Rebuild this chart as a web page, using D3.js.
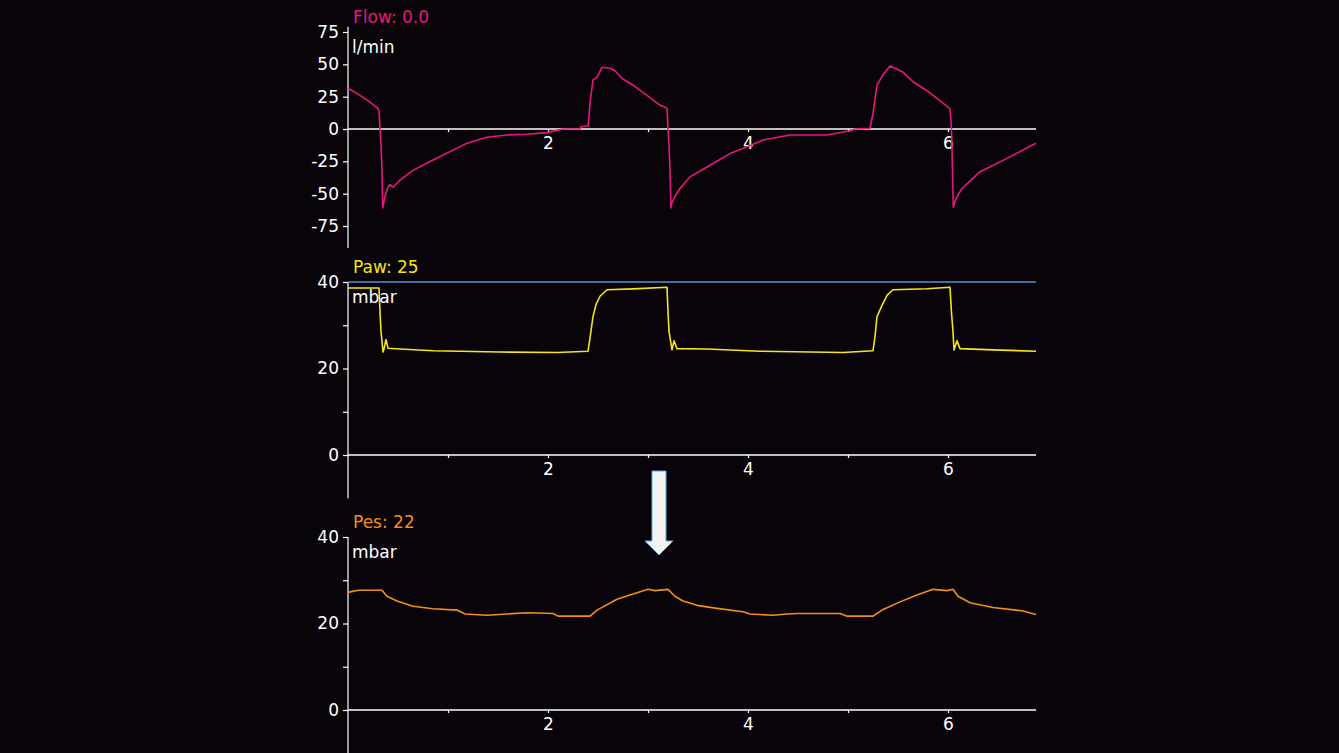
<!DOCTYPE html>
<html>
<head>
<meta charset="utf-8">
<script src="https://cdn.jsdelivr.net/npm/d3@7"></script>
<style>
  html, body { margin: 0; padding: 0; background: #080409; }
  svg { display: block; }
  text { font-family: "DejaVu Sans", sans-serif; }
</style>
</head>
<body>
<svg id="chart" width="1339" height="753"></svg>
<script>
// ---------- data ----------
const timeTicks = [1, 2, 3, 4, 5, 6];
const timeLabels = [2, 4, 6];

const flowTicks = [-75, -50, -25, 0, 25, 50, 75];
const pressureTicks = [0, 10, 20, 30, 40];
const pressureLabels = [0, 20, 40];

const flowT = [0, 0.10, 0.20, 0.30, 0.31, 0.32, 0.33, 0.34, 0.347, 0.355, 0.37, 0.40, 0.42, 0.45, 0.52, 0.65, 0.85, 1.02, 1.19, 1.39, 1.59, 1.79, 1.99, 2.15, 2.32, 2.33, 2.40, 2.41, 2.42, 2.45, 2.49, 2.54, 2.62, 2.67, 2.74, 2.85, 2.99, 3.12, 3.19, 3.195, 3.20, 3.21, 3.22, 3.23, 3.24, 3.27, 3.32, 3.42, 3.62, 3.82, 4.00, 4.15, 4.42, 4.79, 5.02, 5.07, 5.22, 5.25, 5.29, 5.32, 5.35, 5.42, 5.55, 5.65, 5.79, 5.89, 6.00, 6.02, 6.035, 6.045, 6.053, 6.07, 6.10, 6.14, 6.32, 6.59, 6.88];
const flowV = [31.5, 27, 22, 16, 14, 0, -11, -33, -61, -58, -52, -45, -43, -45, -39.5, -32, -24, -17.5, -11, -6.4, -4.6, -4.1, -2.8, 0, 0, 1.8, 2.3, 10, 20, 38, 40, 47.7, 47, 45, 39, 34, 26, 18.5, 16, 9, 0, -11, -33, -61, -57, -52, -46, -37, -28, -19, -13.6, -8.5, -4.6, -4.6, -1.3, 0, 0.5, 12, 34, 38, 42, 48.7, 44, 36.5, 29.6, 23.7, 17, 15.5, 0, -32, -60.5, -56, -51, -46, -33, -22.7, -11];

const pawT = [0, 0.31, 0.32, 0.33, 0.35, 0.36, 0.38, 0.40, 0.52, 0.85, 1.52, 2.09, 2.40, 2.42, 2.45, 2.48, 2.52, 2.59, 2.85, 3.19, 3.20, 3.21, 3.24, 3.26, 3.29, 3.59, 4.12, 4.95, 5.25, 5.27, 5.29, 5.34, 5.39, 5.45, 5.79, 6.02, 6.035, 6.05, 6.06, 6.09, 6.12, 6.45, 6.88];
const pawV = [38.6, 38.6, 33, 28.6, 23.8, 24.5, 26.7, 24.7, 24.5, 24.1, 23.8, 23.7, 24, 27, 32, 34.8, 36.7, 38.2, 38.4, 38.8, 33, 28.6, 24.3, 26.4, 24.6, 24.5, 24, 23.7, 24.1, 27.4, 32, 34.6, 36.9, 38.2, 38.45, 38.8, 32.8, 28.6, 24.3, 26.4, 24.6, 24.3, 24.0];
const pawLimit = 40;

const pesT = [0, 0.10, 0.22, 0.34, 0.39, 0.49, 0.65, 0.85, 1.09, 1.17, 1.39, 1.59, 1.79, 2.05, 2.10, 2.42, 2.49, 2.69, 2.85, 3.00, 3.07, 3.20, 3.27, 3.35, 3.49, 3.69, 3.95, 4.02, 4.25, 4.39, 4.49, 4.92, 4.99, 5.25, 5.34, 5.52, 5.69, 5.85, 5.99, 6.05, 6.10, 6.22, 6.45, 6.75, 6.88];
const pesV = [27.2, 27.7, 27.7, 27.7, 26.3, 25.2, 24.0, 23.4, 23.1, 22.2, 21.9, 22.2, 22.5, 22.3, 21.7, 21.7, 23.1, 25.6, 26.8, 27.9, 27.6, 27.9, 26.3, 25.2, 24.2, 23.5, 22.7, 22.2, 21.9, 22.2, 22.3, 22.3, 21.7, 21.7, 23.1, 25.0, 26.6, 27.9, 27.6, 27.9, 26.3, 24.8, 23.7, 22.9, 22.1];

const panels = [
  { title: "Flow: 0.0", unit: "l/min", color: "#e8177f", t: flowT, v: flowV,
    domain: [-75, 75], range: [226, 32], ext: [-92, 79], ticks: flowTicks, labels: flowTicks, xAxisAt: 0 },
  { title: "Paw: 25", unit: "mbar", color: "#f5e619", t: pawT, v: pawV,
    domain: [0, 40], range: [455, 282], ext: [-10, 40], ticks: pressureTicks, labels: pressureLabels, xAxisAt: 0, limit: pawLimit },
  { title: "Pes: 22", unit: "mbar", color: "#f0901c", t: pesT, v: pesV,
    domain: [0, 40], range: [710, 537], ext: [-10, 40], ticks: pressureTicks, labels: pressureLabels, xAxisAt: 0 }
];

// ---------- drawing ----------
const svg = d3.select("#chart");
svg.append("rect").attr("width", 1339).attr("height", 753).attr("fill", "#080409");

const x = d3.scaleLinear().domain([0, 6.88]).range([348, 1036]);

panels.forEach(p => {
  const y = d3.scaleLinear().domain(p.domain).range(p.range);
  const g = svg.append("g");

  // vertical axis line
  g.append("line")
    .attr("x1", x(0)).attr("x2", x(0))
    .attr("y1", Math.min(y(p.ext[1]), 753)).attr("y2", Math.min(y(p.ext[0]), 753))
    .attr("stroke", "#ffffff").attr("stroke-width", 1.2);

  // y axis ticks
  const yAxis = d3.axisLeft(y).tickValues(p.ticks).tickSize(5).tickPadding(4)
    .tickFormat(d => p.labels.includes(d) ? d : "");
  const ya = g.append("g").attr("transform", `translate(${x(0)},0)`).call(yAxis);
  ya.select(".domain").remove();
  ya.selectAll(".tick line").attr("stroke", "#ffffff").attr("stroke-width", 1.2);
  ya.selectAll(".tick text").attr("fill", "#ffffff").style("font-size", "17px")
    .style("font-family", "DejaVu Sans, sans-serif");

  // limit line
  if (p.limit !== undefined) {
    g.append("line")
      .attr("x1", x(0)).attr("x2", x(6.88))
      .attr("y1", y(p.limit)).attr("y2", y(p.limit))
      .attr("stroke", "#5b8fd6").attr("stroke-width", 1.5);
  }

  // x axis
  const xAxis = d3.axisBottom(x).tickValues(timeTicks).tickSize(3).tickPadding(5)
    .tickFormat(d => timeLabels.includes(d) ? d : "");
  const xa = g.append("g").attr("transform", `translate(0,${y(p.xAxisAt)})`).call(xAxis);
  xa.select(".domain").attr("stroke", "#ffffff").attr("stroke-width", 1.5)
    .attr("d", `M${x(0)},0H${x(6.88)}`);
  xa.selectAll(".tick line").attr("stroke", "#ffffff").attr("stroke-width", 1.2);
  xa.selectAll(".tick text").attr("fill", "#ffffff").style("font-size", "17px")
    .style("font-family", "DejaVu Sans, sans-serif");

  // trace
  const data = p.t.map((t, i) => [t, p.v[i]]);
  g.append("path")
    .datum(data)
    .attr("fill", "none")
    .attr("stroke", p.color)
    .attr("stroke-width", 1.6)
    .attr("stroke-linejoin", "round")
    .attr("d", d3.line().x(d => x(d[0])).y(d => y(d[1])));

  // title + unit
  const top = y(p.domain[1]);
  g.append("text").attr("x", x(0) + 5).attr("y", top - 9)
    .attr("fill", p.color).style("font-size", "17px").text(p.title);
  g.append("text").attr("x", x(0) + 4).attr("y", top + 21)
    .attr("fill", "#ffffff").style("font-size", "17px").text(p.unit);
});

// arrow annotation
const arrowX = x(3.11);
const arrow = d3.path();
arrow.moveTo(arrowX - 7, 471);
arrow.lineTo(arrowX + 7, 471);
arrow.lineTo(arrowX + 7, 541);
arrow.lineTo(arrowX + 14, 541);
arrow.lineTo(arrowX, 555);
arrow.lineTo(arrowX - 14, 541);
arrow.lineTo(arrowX - 7, 541);
arrow.closePath();
svg.append("path").attr("d", arrow.toString())
  .attr("fill", "#f2f2f2").attr("stroke", "#5aaee0").attr("stroke-width", 1);
</script>
</body>
</html>
